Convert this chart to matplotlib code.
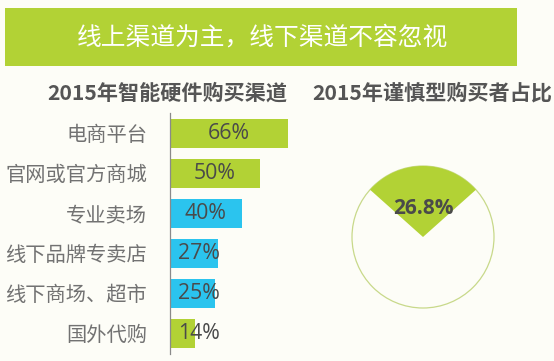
import matplotlib
matplotlib.use("Agg")
import matplotlib.pyplot as plt
from matplotlib.patches import Rectangle, Wedge, Circle

plt.rcParams['font.family'] = ['Noto Sans CJK SC', 'DejaVu Sans']

banner_title = "线上渠道为主，线下渠道不容忽视"
bar_title = "2015年智能硬件购买渠道"
pie_title = "2015年谨慎型购买者占比"
categories = ["电商平台", "官网或官方商城", "专业卖场", "线下品牌专卖店", "线下商场、超市", "国外代购"]
values = [66, 50, 40, 27, 25, 14]
bar_colors = ["#b2d235", "#b2d235", "#2bc4ee", "#2bc4ee", "#2bc4ee", "#b2d235"]
cautious_share = 26.8

W, H = 554, 361
fig = plt.figure(figsize=(W/100, H/100), dpi=100)
bg = "#fdfdf7"
fig.patch.set_facecolor(bg)

def fx(px): return px / W
def fy(py): return 1 - py / H

# banner
fig.patches.append(Rectangle((fx(5), fy(66)), fx(512), (66-8)/H, transform=fig.transFigure,
                             facecolor="#b2d235", edgecolor="none", zorder=0))
fig.text(fx(262), fy(38), banner_title, color="white", fontsize=17.8, ha="center", va="center")

# titles
fig.text(fx(167), fy(93), bar_title, color="#555555", fontsize=15.2, fontweight="bold", ha="center", va="center")
fig.text(fx(432), fy(93), pie_title, color="#555555", fontsize=15.2, fontweight="bold", ha="center", va="center")

# bar chart
ax = fig.add_axes([fx(170), (H-354)/H, 179/W, 241/H])
ax.set_facecolor("none")
ypos = list(range(len(categories)))
ax.barh(ypos, values, height=0.73, color=bar_colors, zorder=2)
ax.set_xlim(0, 100)
ax.set_ylim(5.52, -0.51)
ax.set_yticks(ypos)
ax.set_yticklabels(categories, fontsize=14.6, color="#727272")
ax.tick_params(axis="y", length=0, pad=16.5)
ax.set_xticks([])
for s in ["top", "right", "bottom"]:
    ax.spines[s].set_visible(False)
ax.spines["left"].set_color("#8a8a8a")
ax.spines["left"].set_linewidth(0.9)
for y, v in zip(ypos, values):
    ax.text(max(v/2, 16.2), y, f"{v}%", ha="center", va="center", fontsize=15.3,
            color="#4a4a4a", family=["Open Sans", "DejaVu Sans"], zorder=3)

# pie
pax = fig.add_axes([fx(423-80), fy(237+80), 160/W, 160/H])
pax.set_xlim(-80, 80)
pax.set_ylim(-80, 80)
pax.set_aspect("equal")
pax.axis("off")
ang = cautious_share / 100 * 360
pax.add_patch(Circle((0, 0), 71, facecolor="none", edgecolor="#c8d98a", linewidth=0.9))
pax.add_patch(Wedge((0, 0), 71, 90 - ang/2, 90 + ang/2, facecolor="#b2d235", edgecolor="none"))
pax.text(0, 29, f"{cautious_share}%", ha="center", va="center", fontsize=15,
         fontweight="bold", color="#4a4a4a", family=["Open Sans", "DejaVu Sans"])

fig.savefig("out.png", dpi=100, facecolor=bg)
